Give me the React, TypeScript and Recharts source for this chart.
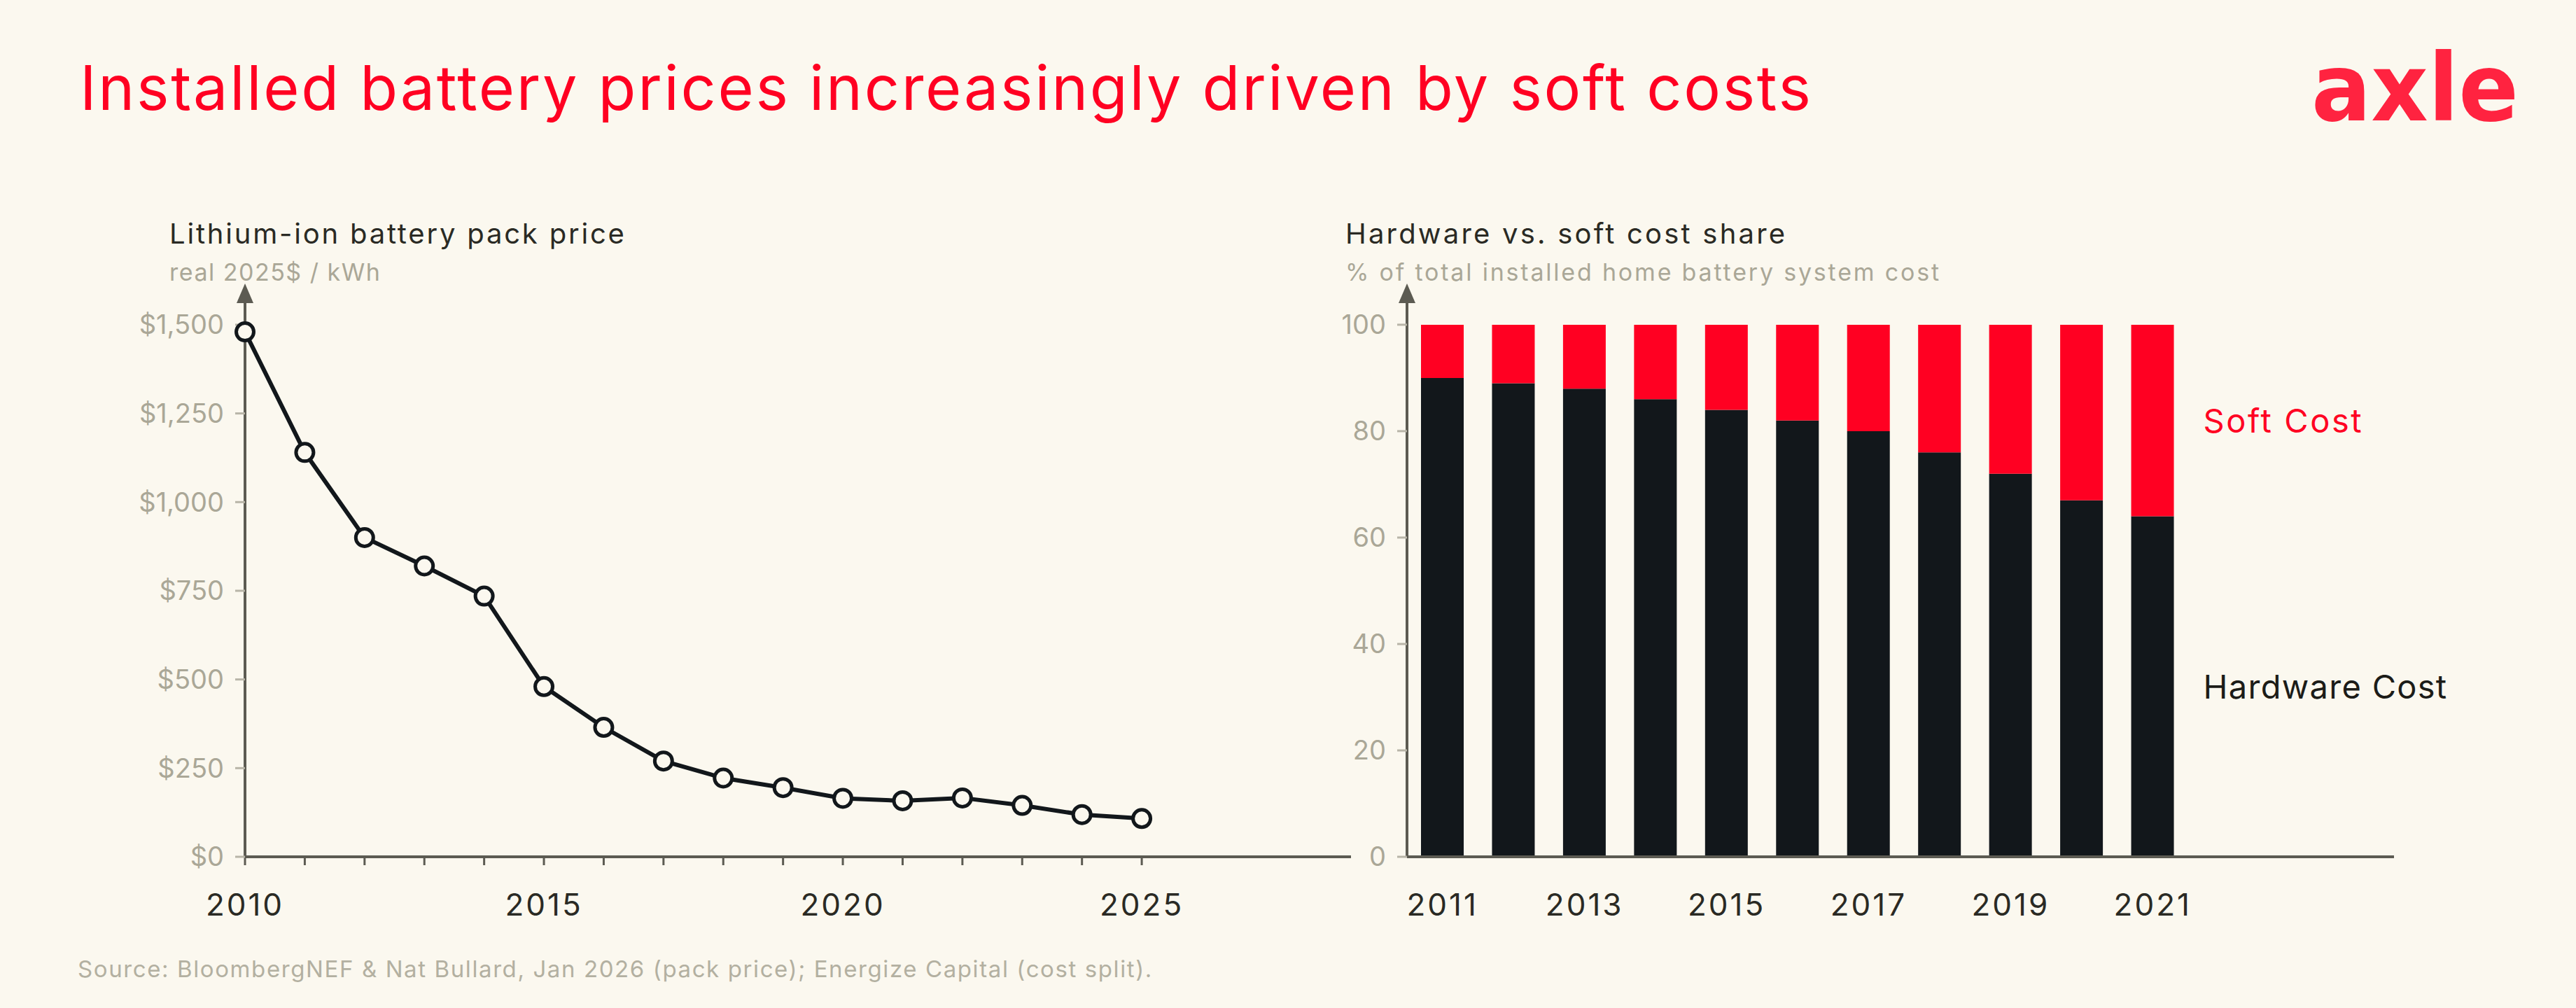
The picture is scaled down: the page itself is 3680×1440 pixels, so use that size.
import React from "react";
import {
  LineChart,
  Line,
  BarChart,
  Bar,
  XAxis,
  YAxis,
  LabelList,
} from "recharts";

// pack price, real 2025$ / kWh
const PRICE_YEARS = [2010, 2011, 2012, 2013, 2014, 2015, 2016, 2017, 2018, 2019, 2020, 2021, 2022, 2023, 2024, 2025];
const PACK_PRICE = [1480, 1140, 900, 820, 735, 480, 365, 270, 222, 195, 165, 158, 166, 145, 119, 108];
const PRICE_TICKS = [0, 250, 500, 750, 1000, 1250, 1500];

// cost split, % of total installed system cost
const SHARE_YEARS = ["2011", "2012", "2013", "2014", "2015", "2016", "2017", "2018", "2019", "2020", "2021"];
const HARDWARE_SHARE = [90, 89, 88, 86, 84, 82, 80, 76, 72, 67, 64];
const SOFT_SHARE = [10, 11, 12, 14, 16, 18, 20, 24, 28, 33, 36];
const SHARE_TICKS = [0, 20, 40, 60, 80, 100];

const BG = "#fbf8ef";
const RED = "#ff0022";
const INK = "#12171b";
const AXIS = "#5c5b52";
const MUTED = "#aaa797";
const FONT = "Inter, 'Open Sans', sans-serif";

const priceData = PRICE_YEARS.map((year, i) => ({ year, price: PACK_PRICE[i] }));
const shareData = SHARE_YEARS.map((year, i) => ({
  year,
  hardware: HARDWARE_SHARE[i],
  soft: SOFT_SHARE[i],
}));

function AxisArrow(props: any) {
  const vb = props.viewBox;
  if (!vb) return null;
  const x = vb.x + vb.width;
  const y = vb.y;
  return <polygon points={`${x - 12},${y + 1} ${x + 12},${y + 1} ${x},${y - 27}`} fill={AXIS} />;
}

function formatPrice(v: number) {
  return "$" + v.toLocaleString("en-US");
}

function seriesLabel(name: string, color: string, spacing: number) {
  return (props: any) => {
    const { x, y, width, height, index } = props;
    if (index !== SHARE_YEARS.length - 1) return null;
    return (
      <text
        x={Number(x) + Number(width) + 42}
        y={Number(y) + Number(height) / 2}
        dominantBaseline="central"
        fill={color}
        fontSize={47}
        letterSpacing={spacing}
        fontFamily={FONT}>
        {name}
      </text>
    );
  };
}

const yTick = { fill: MUTED, fontSize: 38, fontFamily: FONT };
const xTick = { fill: "#2a2a24", fontSize: 44, fontFamily: FONT, letterSpacing: 3 };

export default function App() {
  return (
    <div
      style={{
        position: "absolute",
        left: 0,
        top: 0,
        width: 3680,
        height: 1440,
        background: BG,
        overflow: "hidden",
      }}>
      <svg
        width={3680}
        height={1440}
        style={{ position: "absolute", left: 0, top: 0 }}
        fontFamily={FONT}>
        <text x={114} y={157} fontSize={88} fill={RED} letterSpacing={2.7}>
          Installed battery prices increasingly driven by soft costs
        </text>
        <text
          x={3302}
          y={172}
          fontSize={134}
          fontWeight={700}
          fill="#ff2340"
          fontFamily="'DejaVu Sans', sans-serif"
          textLength={296}
          lengthAdjust="spacingAndGlyphs">
          axle
        </text>

        <text x={242} y={348} fontSize={40} fill="#2a2a24" letterSpacing={2.8}>
          Lithium-ion battery pack price
        </text>
        <text x={242} y={401} fontSize={34} fill={MUTED} letterSpacing={1.5}>
          real 2025$ / kWh
        </text>

        <text x={1922} y={348} fontSize={40} fill="#2a2a24" letterSpacing={3.2}>
          Hardware vs. soft cost share
        </text>
        <text x={1922} y={401} fontSize={34} fill={MUTED} letterSpacing={2.8}>
          % of total installed home battery system cost
        </text>

        <text x={111} y={1396} fontSize={33} fill="#b3b0a1" letterSpacing={1.6}>
          Source: BloombergNEF &amp; Nat Bullard, Jan 2026 (pack price); Energize Capital (cost split).
        </text>
      </svg>

      <div style={{ position: "absolute", left: 0, top: 0 }}>
        <LineChart
          width={1960}
          height={1440}
          data={priceData}
          margin={{ top: 432, right: 30, bottom: 136, left: 0 }}>
          <XAxis
            dataKey="year"
            type="number"
            domain={[2010, 2028.5]}
            ticks={PRICE_YEARS}
            tickFormatter={(v: number) => (v % 5 === 0 ? String(v) : "")}
            axisLine={{ stroke: AXIS, strokeWidth: 4 }}
            tickLine={{ stroke: AXIS, strokeWidth: 3 }}
            tickSize={12}
            tickMargin={41}
            tick={xTick}
            height={80}
            interval={0}
          />
          <YAxis
            domain={[0, 1563]}
            ticks={PRICE_TICKS}
            tickFormatter={formatPrice}
            axisLine={{ stroke: AXIS, strokeWidth: 4 }}
            tickLine={{ stroke: "#b8b5a8", strokeWidth: 3 }}
            tickSize={14}
            tickMargin={16}
            tick={yTick}
            width={350}
            interval={0}
            label={<AxisArrow />}
          />
          <Line
            dataKey="price"
            type="linear"
            stroke={INK}
            strokeWidth={6}
            dot={{ r: 12.5, fill: BG, stroke: INK, strokeWidth: 5 }}
            activeDot={false}
            isAnimationActive={false}
          />
        </LineChart>
      </div>

      <div style={{ position: "absolute", left: 1880, top: 0 }}>
        <BarChart
          width={1800}
          height={1440}
          data={shareData}
          barSize={61}
          margin={{ top: 432, right: 260, bottom: 136, left: 0 }}>
          <XAxis
            dataKey="year"
            padding={{ left: 0, right: 294 }}
            axisLine={{ stroke: AXIS, strokeWidth: 4 }}
            tickLine={false}
            tickSize={0}
            tickMargin={53}
            tick={xTick}
            height={80}
            interval={1}
          />
          <YAxis
            domain={[0, 104.2]}
            ticks={SHARE_TICKS}
            axisLine={{ stroke: AXIS, strokeWidth: 4 }}
            tickLine={{ stroke: "#b8b5a8", strokeWidth: 3 }}
            tickSize={14}
            tickMargin={16}
            tick={yTick}
            width={130}
            interval={0}
            label={<AxisArrow />}
          />
          <Bar dataKey="hardware" stackId="share" fill={INK} isAnimationActive={false}>
            <LabelList dataKey="hardware" content={seriesLabel("Hardware Cost", "#1c1c18", 1.3)} />
          </Bar>
          <Bar dataKey="soft" stackId="share" fill={RED} isAnimationActive={false}>
            <LabelList dataKey="soft" content={seriesLabel("Soft Cost", RED, 2.6)} />
          </Bar>
        </BarChart>
      </div>
    </div>
  );
}
